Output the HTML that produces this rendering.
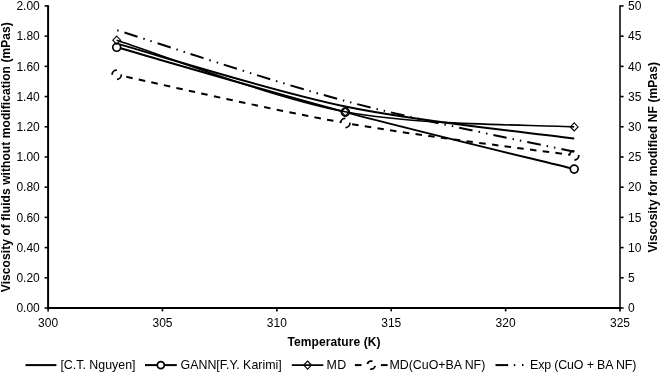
<!DOCTYPE html>
<html><head><meta charset="utf-8"><style>
html,body{margin:0;padding:0;background:#fff;}
svg{display:block;will-change:transform;}
</style></head><body>
<svg width="660" height="373" viewBox="0 0 660 373">
<rect width="660" height="373" fill="#fff"/>
<line x1="44.6" y1="308.00" x2="48.1" y2="308.00" stroke="#000" stroke-width="1.6"/>
<text x="39.8" y="312.20" font-size="12" text-anchor="end" font-family="Liberation Sans, sans-serif" fill="#000">0.00</text>
<line x1="44.6" y1="277.80" x2="48.1" y2="277.80" stroke="#000" stroke-width="1.6"/>
<text x="39.8" y="282.00" font-size="12" text-anchor="end" font-family="Liberation Sans, sans-serif" fill="#000">0.20</text>
<line x1="44.6" y1="247.59" x2="48.1" y2="247.59" stroke="#000" stroke-width="1.6"/>
<text x="39.8" y="251.79" font-size="12" text-anchor="end" font-family="Liberation Sans, sans-serif" fill="#000">0.40</text>
<line x1="44.6" y1="217.38" x2="48.1" y2="217.38" stroke="#000" stroke-width="1.6"/>
<text x="39.8" y="221.58" font-size="12" text-anchor="end" font-family="Liberation Sans, sans-serif" fill="#000">0.60</text>
<line x1="44.6" y1="187.18" x2="48.1" y2="187.18" stroke="#000" stroke-width="1.6"/>
<text x="39.8" y="191.38" font-size="12" text-anchor="end" font-family="Liberation Sans, sans-serif" fill="#000">0.80</text>
<line x1="44.6" y1="156.97" x2="48.1" y2="156.97" stroke="#000" stroke-width="1.6"/>
<text x="39.8" y="161.17" font-size="12" text-anchor="end" font-family="Liberation Sans, sans-serif" fill="#000">1.00</text>
<line x1="44.6" y1="126.77" x2="48.1" y2="126.77" stroke="#000" stroke-width="1.6"/>
<text x="39.8" y="130.97" font-size="12" text-anchor="end" font-family="Liberation Sans, sans-serif" fill="#000">1.20</text>
<line x1="44.6" y1="96.56" x2="48.1" y2="96.56" stroke="#000" stroke-width="1.6"/>
<text x="39.8" y="100.77" font-size="12" text-anchor="end" font-family="Liberation Sans, sans-serif" fill="#000">1.40</text>
<line x1="44.6" y1="66.36" x2="48.1" y2="66.36" stroke="#000" stroke-width="1.6"/>
<text x="39.8" y="70.56" font-size="12" text-anchor="end" font-family="Liberation Sans, sans-serif" fill="#000">1.60</text>
<line x1="44.6" y1="36.15" x2="48.1" y2="36.15" stroke="#000" stroke-width="1.6"/>
<text x="39.8" y="40.35" font-size="12" text-anchor="end" font-family="Liberation Sans, sans-serif" fill="#000">1.80</text>
<line x1="44.6" y1="5.95" x2="48.1" y2="5.95" stroke="#000" stroke-width="1.6"/>
<text x="39.8" y="10.15" font-size="12" text-anchor="end" font-family="Liberation Sans, sans-serif" fill="#000">2.00</text>
<line x1="620.0" y1="308.00" x2="623.6" y2="308.00" stroke="#000" stroke-width="1.6"/>
<text x="628" y="312.20" font-size="12" font-family="Liberation Sans, sans-serif" fill="#000">0</text>
<line x1="620.0" y1="277.80" x2="623.6" y2="277.80" stroke="#000" stroke-width="1.6"/>
<text x="628" y="282.00" font-size="12" font-family="Liberation Sans, sans-serif" fill="#000">5</text>
<line x1="620.0" y1="247.59" x2="623.6" y2="247.59" stroke="#000" stroke-width="1.6"/>
<text x="628" y="251.79" font-size="12" font-family="Liberation Sans, sans-serif" fill="#000">10</text>
<line x1="620.0" y1="217.38" x2="623.6" y2="217.38" stroke="#000" stroke-width="1.6"/>
<text x="628" y="221.58" font-size="12" font-family="Liberation Sans, sans-serif" fill="#000">15</text>
<line x1="620.0" y1="187.18" x2="623.6" y2="187.18" stroke="#000" stroke-width="1.6"/>
<text x="628" y="191.38" font-size="12" font-family="Liberation Sans, sans-serif" fill="#000">20</text>
<line x1="620.0" y1="156.97" x2="623.6" y2="156.97" stroke="#000" stroke-width="1.6"/>
<text x="628" y="161.17" font-size="12" font-family="Liberation Sans, sans-serif" fill="#000">25</text>
<line x1="620.0" y1="126.77" x2="623.6" y2="126.77" stroke="#000" stroke-width="1.6"/>
<text x="628" y="130.97" font-size="12" font-family="Liberation Sans, sans-serif" fill="#000">30</text>
<line x1="620.0" y1="96.56" x2="623.6" y2="96.56" stroke="#000" stroke-width="1.6"/>
<text x="628" y="100.77" font-size="12" font-family="Liberation Sans, sans-serif" fill="#000">35</text>
<line x1="620.0" y1="66.36" x2="623.6" y2="66.36" stroke="#000" stroke-width="1.6"/>
<text x="628" y="70.56" font-size="12" font-family="Liberation Sans, sans-serif" fill="#000">40</text>
<line x1="620.0" y1="36.15" x2="623.6" y2="36.15" stroke="#000" stroke-width="1.6"/>
<text x="628" y="40.35" font-size="12" font-family="Liberation Sans, sans-serif" fill="#000">45</text>
<line x1="620.0" y1="5.95" x2="623.6" y2="5.95" stroke="#000" stroke-width="1.6"/>
<text x="628" y="10.15" font-size="12" font-family="Liberation Sans, sans-serif" fill="#000">50</text>
<line x1="48.10" y1="308.0" x2="48.10" y2="311.4" stroke="#000" stroke-width="1.6"/>
<text x="48.10" y="326.9" font-size="12" text-anchor="middle" font-family="Liberation Sans, sans-serif" fill="#000">300</text>
<line x1="162.48" y1="308.0" x2="162.48" y2="311.4" stroke="#000" stroke-width="1.6"/>
<text x="162.48" y="326.9" font-size="12" text-anchor="middle" font-family="Liberation Sans, sans-serif" fill="#000">305</text>
<line x1="276.86" y1="308.0" x2="276.86" y2="311.4" stroke="#000" stroke-width="1.6"/>
<text x="276.86" y="326.9" font-size="12" text-anchor="middle" font-family="Liberation Sans, sans-serif" fill="#000">310</text>
<line x1="391.24" y1="308.0" x2="391.24" y2="311.4" stroke="#000" stroke-width="1.6"/>
<text x="391.24" y="326.9" font-size="12" text-anchor="middle" font-family="Liberation Sans, sans-serif" fill="#000">315</text>
<line x1="505.62" y1="308.0" x2="505.62" y2="311.4" stroke="#000" stroke-width="1.6"/>
<text x="505.62" y="326.9" font-size="12" text-anchor="middle" font-family="Liberation Sans, sans-serif" fill="#000">320</text>
<line x1="620.00" y1="308.0" x2="620.00" y2="311.4" stroke="#000" stroke-width="1.6"/>
<text x="620.00" y="326.9" font-size="12" text-anchor="middle" font-family="Liberation Sans, sans-serif" fill="#000">325</text>
<line x1="48.1" y1="5.15" x2="48.1" y2="309.0" stroke="#000" stroke-width="2"/>
<line x1="620.0" y1="5.15" x2="620.0" y2="309.0" stroke="#1a1a1a" stroke-width="1.7"/>
<line x1="47.1" y1="308.0" x2="621.0" y2="308.0" stroke="#000" stroke-width="2"/>
<text x="334" y="345.6" font-size="12" font-weight="bold" text-anchor="middle" font-family="Liberation Sans, sans-serif" fill="#000" textLength="93.2" lengthAdjust="spacing">Temperature (K)</text>
<text transform="translate(10.3,157.2) rotate(-90)" font-size="12" font-weight="bold" text-anchor="middle" font-family="Liberation Sans, sans-serif" fill="#000" textLength="270" lengthAdjust="spacing">Viscosity of fluids without modification (mPas)</text>
<text transform="translate(657,157.35) rotate(-90)" font-size="12" font-weight="bold" text-anchor="middle" font-family="Liberation Sans, sans-serif" fill="#000" textLength="190.5" lengthAdjust="spacing">Viscosity for modified NF (mPas)</text>
<path d="M116.70,43.60 C154.80,54.08 269.05,90.67 345.30,106.50 C421.55,122.33 536.05,133.25 574.20,138.60" fill="none" stroke="#000" stroke-width="2.0"/>
<path d="M116.70,47.30 C154.80,58.10 269.05,91.80 345.30,112.10 C421.55,132.40 536.05,159.60 574.20,169.10" fill="none" stroke="#000" stroke-width="2.0"/>
<circle cx="116.7" cy="47.3" r="3.95" fill="#fff" stroke="#000" stroke-width="1.7"/>
<circle cx="345.3" cy="112.1" r="3.95" fill="#fff" stroke="#000" stroke-width="1.7"/>
<circle cx="574.2" cy="169.1" r="3.95" fill="#fff" stroke="#000" stroke-width="1.7"/>
<path d="M116.70,40.20 C154.80,52.13 269.05,97.35 345.30,111.80 C421.55,126.25 536.05,124.38 574.20,126.90" fill="none" stroke="#000" stroke-width="1.6"/>
<path d="M116.7,36.1 L120.60000000000001,40.2 L116.7,44.300000000000004 L112.8,40.2 Z" fill="none" stroke="#000" stroke-width="1.1"/>
<path d="M345.3,107.7 L349.2,111.8 L345.3,115.89999999999999 L341.40000000000003,111.8 Z" fill="none" stroke="#000" stroke-width="1.1"/>
<path d="M574.2,122.80000000000001 L578.1,126.9 L574.2,131.0 L570.3000000000001,126.9 Z" fill="none" stroke="#000" stroke-width="1.1"/>
<path d="M116.70,74.70 C154.80,82.75 269.05,109.55 345.30,123.00 C421.55,136.45 536.05,150.00 574.20,155.40" fill="none" stroke="#000" stroke-width="2.0" stroke-dasharray="6.5 6.32" stroke-dashoffset="2.9"/>
<circle cx="116.7" cy="74.7" r="4.6" fill="#fff" stroke="#000" stroke-width="1.8" stroke-dasharray="7.23 7.23" transform="rotate(-5 116.7 74.7)"/>
<circle cx="345.3" cy="123.0" r="4.6" fill="#fff" stroke="#000" stroke-width="1.8" stroke-dasharray="7.23 7.23" transform="rotate(-5 345.3 123.0)"/>
<circle cx="574.2" cy="155.4" r="4.6" fill="#fff" stroke="#000" stroke-width="1.8" stroke-dasharray="7.23 7.23" transform="rotate(-5 574.2 155.4)"/>
<path d="M116.70,30.10 C154.80,41.92 269.05,80.72 345.30,101.00 C421.55,121.28 536.05,143.33 574.20,151.80" fill="none" stroke="#000" stroke-width="2.0" stroke-dasharray="13.8 6 1.5 6 1.5 6" stroke-dashoffset="26.63"/>
<line x1="25.5" y1="365.1" x2="56.4" y2="365.1" stroke="#000" stroke-width="2.0"/>
<text x="60.4" y="369" font-size="12.4" font-family="Liberation Sans, sans-serif" fill="#000" textLength="75.1" lengthAdjust="spacing">[C.T. Nguyen]</text>
<line x1="145" y1="365.1" x2="176.8" y2="365.1" stroke="#000" stroke-width="2.0"/>
<circle cx="160.8" cy="365.1" r="3.5" fill="#fff" stroke="#000" stroke-width="1.8"/>
<text x="180.5" y="369" font-size="12.4" font-family="Liberation Sans, sans-serif" fill="#000" textLength="101.3" lengthAdjust="spacing">GANN[F.Y. Karimi]</text>
<line x1="291.8" y1="365.1" x2="323.3" y2="365.1" stroke="#000" stroke-width="1.6"/>
<path d="M307.6,361.0 L311.5,365.1 L307.6,369.20000000000005 L303.70000000000005,365.1 Z" fill="none" stroke="#000" stroke-width="1.1"/>
<text x="326.6" y="369" font-size="12.4" font-family="Liberation Sans, sans-serif" fill="#000" textLength="19.6" lengthAdjust="spacing">MD</text>
<line x1="354.9" y1="365.1" x2="361.5" y2="365.1" stroke="#000" stroke-width="2.0"/>
<line x1="380.9" y1="365.1" x2="387.6" y2="365.1" stroke="#000" stroke-width="2.0"/>
<circle cx="371.2" cy="365.1" r="4.0" fill="#fff" stroke="#000" stroke-width="1.8" stroke-dasharray="6.28 6.28" transform="rotate(12 371.2 365.1)"/>
<text x="389.5" y="369" font-size="12.4" font-family="Liberation Sans, sans-serif" fill="#000" textLength="95.8" lengthAdjust="spacing">MD(CuO+BA NF)</text>
<line x1="495.5" y1="365.1" x2="508.2" y2="365.1" stroke="#000" stroke-width="2.0"/>
<line x1="513.8" y1="365.1" x2="515.3" y2="365.1" stroke="#000" stroke-width="2.0"/>
<line x1="522" y1="365.1" x2="523.5" y2="365.1" stroke="#000" stroke-width="2.0"/>
<text x="530" y="369" font-size="12.4" font-family="Liberation Sans, sans-serif" fill="#000" textLength="106.4" lengthAdjust="spacing">Exp (CuO + BA NF)</text>
</svg>
</body></html>
